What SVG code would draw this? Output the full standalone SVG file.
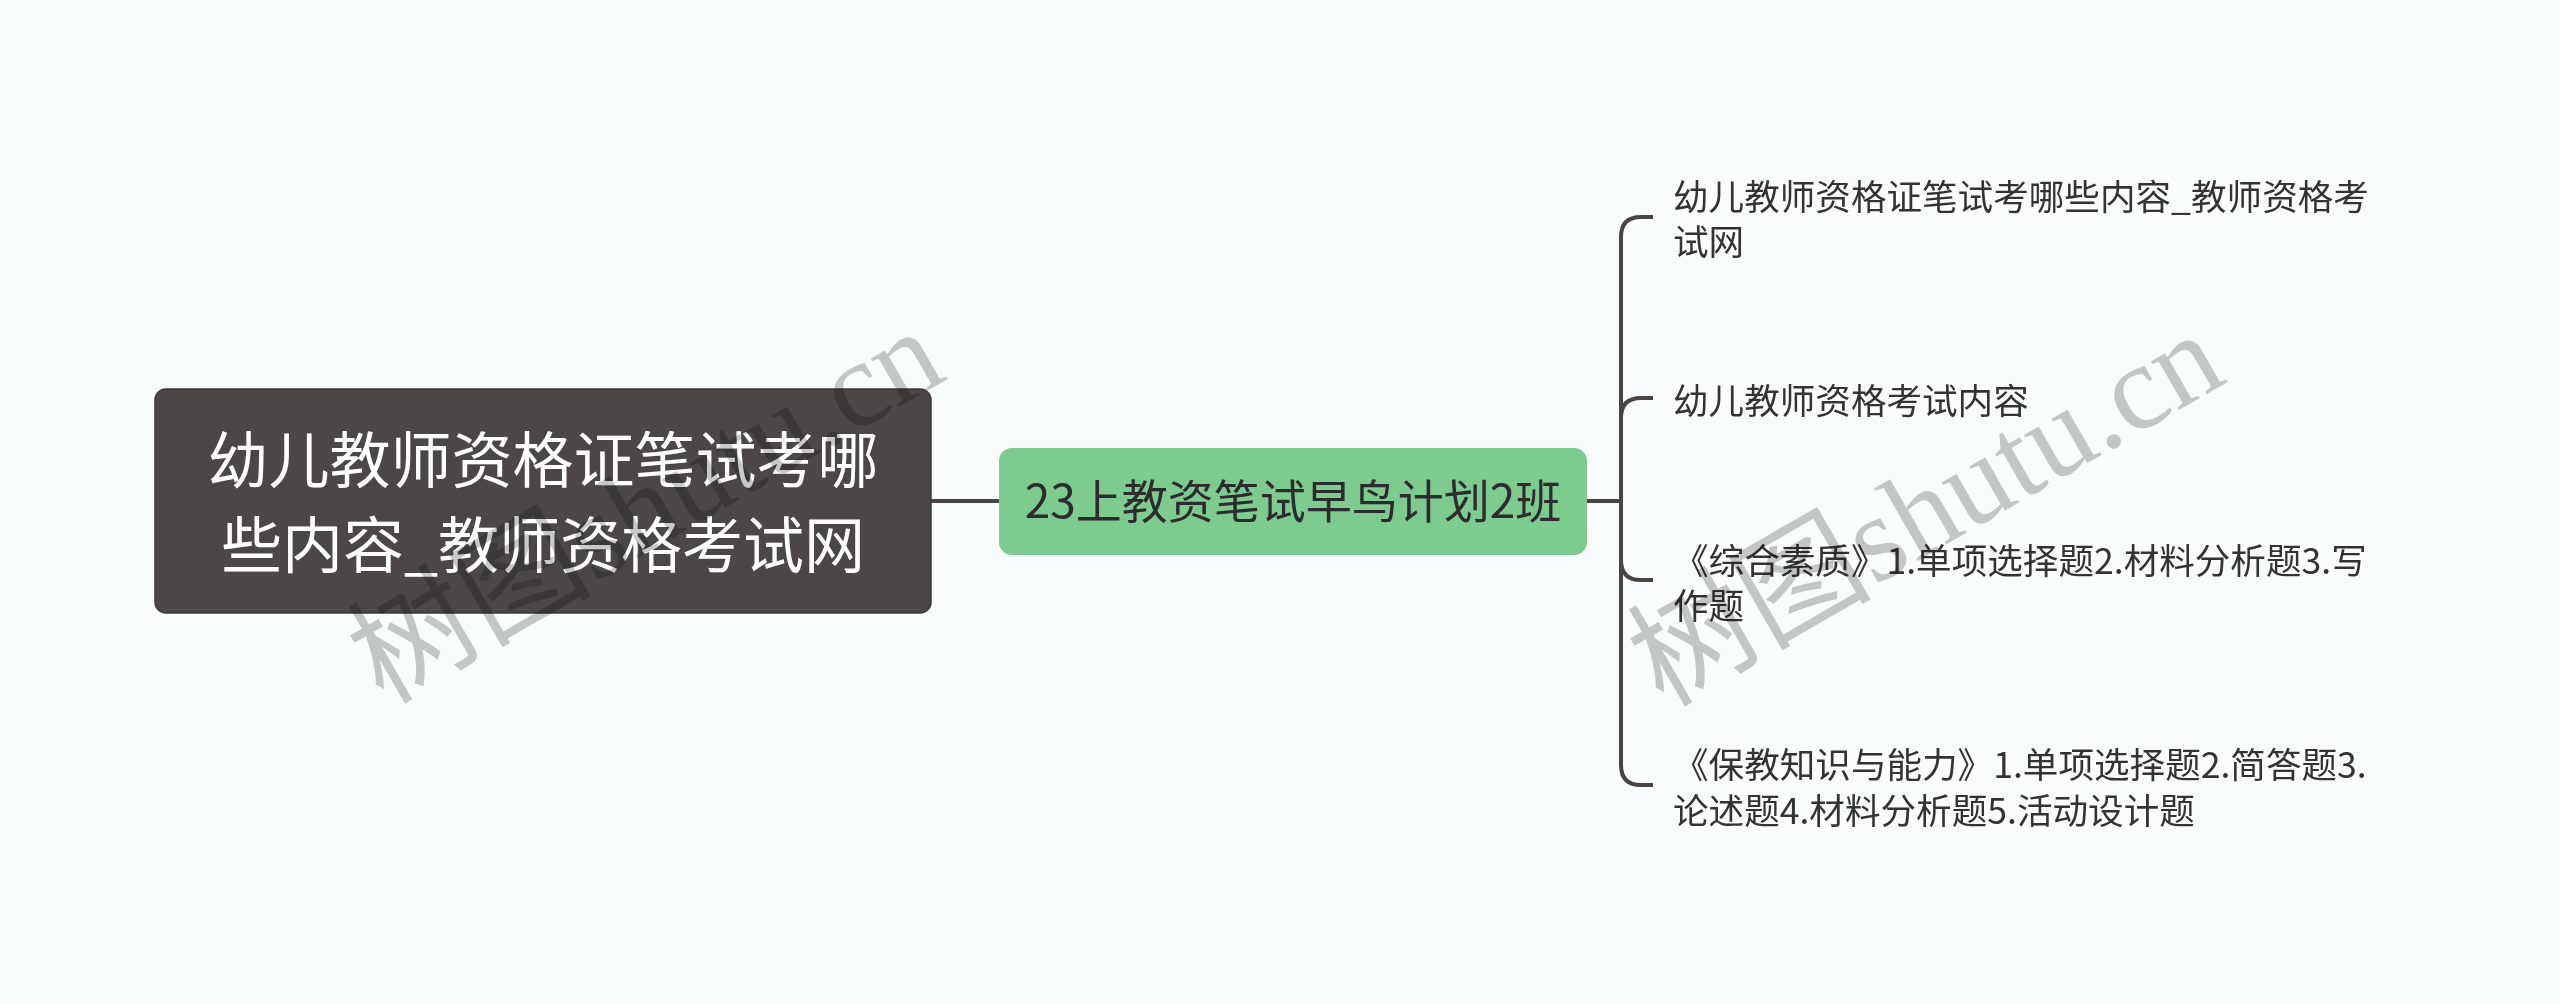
<svg xmlns="http://www.w3.org/2000/svg" width="2560" height="1004" viewBox="0 0 2560 1004">
<style>
.bg{fill:#f8fcfc}
.conn{fill:none;stroke:#4a4545;stroke-width:4;stroke-linecap:butt}
.t{font-family:"Noto Sans CJK SC","Noto Sans",sans-serif}
.root-box{fill:#4b4747;stroke:#3d3939;stroke-width:1.5}
.root-t{fill:#ffffff;font-size:61px}
.mid-box{fill:#7ecb8f}
.mid-t{fill:#2c2c2c;font-size:46px}
.leaf-t{fill:#333333;font-size:35.6px}
.wm{font-family:"Liberation Serif","Noto Sans CJK SC",serif;font-size:122px;fill:#c9c9c9;mix-blend-mode:multiply}
</style>
<rect class="bg" x="0" y="0" width="2560" height="1004"/>
<g id="connectors">
<path class="conn" d="M931 501 H999"/>
<path class="conn" d="M1587 501 H1621"/>
<path class="conn" d="M1621 501 V237 Q1621 217 1641 217 H1653"/>
<path class="conn" d="M1621 501 V418 Q1621 398 1641 398 H1653"/>
<path class="conn" d="M1621 501 V560 Q1621 580 1641 580 H1653"/>
<path class="conn" d="M1621 501 V765 Q1621 785 1641 785 H1653"/>
</g>
<g id="node-root">
<rect class="root-box" x="155" y="389" width="776" height="224" rx="11"/>
<text class="t root-t" x="543" y="483" text-anchor="middle">幼儿教师资格证笔试考哪</text>
<text class="t root-t" x="543" y="568" text-anchor="middle">些内容_教师资格考试网</text>
</g>
<g id="node-mid">
<rect class="mid-box" x="999" y="448" width="588" height="107" rx="13"/>
<text class="t mid-t" x="1293" y="518" text-anchor="middle">23上教资笔试早鸟计划2班</text>
</g>
<g id="leaf-1">
<text class="t leaf-t" x="1673" y="210">幼儿教师资格证笔试考哪些内容_教师资格考</text>
<text class="t leaf-t" x="1673" y="255">试网</text>
</g>
<g id="leaf-2">
<text class="t leaf-t" x="1673" y="414">幼儿教师资格考试内容</text>
</g>
<g id="leaf-3">
<text class="t leaf-t" x="1673" y="574">《综合素质》1.单项选择题2.材料分析题3.写</text>
<text class="t leaf-t" x="1673" y="619">作题</text>
</g>
<g id="leaf-4">
<text class="t leaf-t" x="1673" y="778">《保教知识与能力》1.单项选择题2.简答题3.</text>
<text class="t leaf-t" x="1673" y="824">论述题4.材料分析题5.活动设计题</text>
</g>
<g id="watermarks">
<text class="wm" transform="translate(383 705) rotate(-30)">树图shutu.cn</text>
<text class="wm" transform="translate(1663 708) rotate(-30)">树图shutu.cn</text>
</g>
</svg>
